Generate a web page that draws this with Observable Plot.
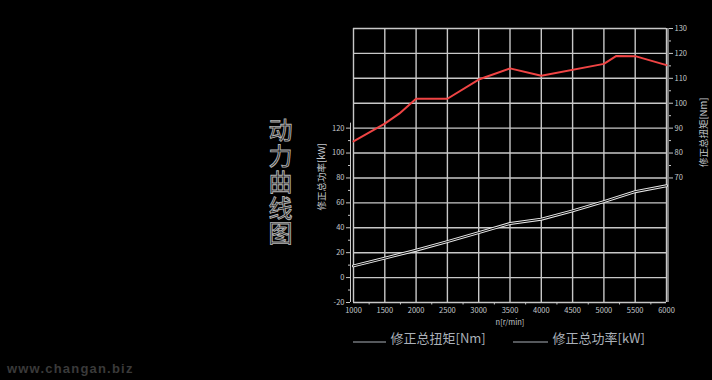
<!DOCTYPE html>
<html>
<head>
<meta charset="utf-8">
<script src="https://cdn.jsdelivr.net/npm/d3@7"></script>
<script src="https://cdn.jsdelivr.net/npm/@observablehq/plot@0.6"></script>
<style>
html,body{margin:0;padding:0;background:#000;}
#chart svg{display:block;background:#000;}
</style>
</head>
<body>
<div id="chart"></div>
<script>
// Torque curve (Nm) vs engine speed (rpm)
const torqueRpm = [1000, 1500, 1730, 2000, 2500, 3000, 3500, 4000, 5000, 5200, 5500, 6000];
const torqueNm  = [84.7, 91.8, 95.8, 101.8, 101.8, 109.5, 114, 111, 115.8, 119, 118.9, 115.3];
// Power curve (kW) vs engine speed (rpm)
const powerRpm = [1000, 1500, 2000, 2500, 3000, 3500, 4000, 4500, 5000, 5500, 6000];
const powerKw  = [9.4, 15.6, 22, 28.9, 36.1, 43.4, 46.9, 53.6, 61, 69, 73.7];
// Tick labels
const xTicks = [1000, 1500, 2000, 2500, 3000, 3500, 4000, 4500, 5000, 5500, 6000];
const powerTicks = [-20, 0, 20, 40, 60, 80, 100, 120];
const torqueTicks = [70, 80, 90, 100, 110, 120, 130];
const title = "动力曲线图";
const torqueLabel = "修正总扭矩[Nm]";
const powerLabel = "修正总功率[kW]";
const xLabel = "n[r/min]";
const watermark = "www.changan.biz";

// torque shares the chart's vertical scale: 70 Nm ↔ 80 kW, 10 Nm per 20 kW
const t2p = t => 2 * t - 60;
const p2t = p => String((p + 60) / 2);

const torque = torqueRpm.map((r, i) => ({rpm: r, v: t2p(torqueNm[i])}));
const power = powerRpm.map((r, i) => ({rpm: r, v: powerKw[i]}));
const gridY = d3.range(-20, 201, 20);

const font = "'Noto Sans CJK SC', 'Noto Sans', sans-serif";
const textCol = "#c4c8cc";
const gridCol = "#c8c8c8";

const chart = Plot.plot({
  width: 712,
  height: 380,
  marginLeft: 353,
  marginRight: 46,
  marginTop: 28,
  marginBottom: 78,
  style: {background: "#000", color: textCol, fontFamily: font},
  x: {domain: [1000, 6000]},
  y: {domain: [-20, 200]},
  marks: [
    Plot.ruleX(xTicks, {stroke: gridCol, strokeWidth: 1.4}),
    Plot.ruleY(gridY, {stroke: gridCol, strokeWidth: 1.4}),
    // right edge (double line)
    Plot.ruleX([6000], {stroke: gridCol, strokeWidth: 1.2, dx: 1.5}),
    // left axis line
    Plot.ruleX([1000], {y1: -20, y2: 124, stroke: gridCol, strokeWidth: 1, dx: -3}),
    Plot.axisX({ticks: xTicks, tickFormat: d => String(d), tickSize: 0, tickPadding: 5, fontSize: 7.5, label: null, fill: textCol}),
    Plot.axisX({ticks: d3.range(1250, 6000, 500), tickSize: 2.5, tickFormat: () => "", label: null, stroke: gridCol}),
    Plot.axisY({anchor: "left", ticks: powerTicks, tickFormat: d => String(d), tickSize: 4, tickPadding: 2, dx: -3, fontSize: 7.5, label: null, fill: textCol, stroke: gridCol}),
    Plot.axisY({anchor: "left", ticks: d3.range(-10, 121, 20), tickSize: 2, dx: -3, tickFormat: () => "", label: null, stroke: gridCol}),
    Plot.axisY({anchor: "right", ticks: torqueTicks.map(t2p), tickFormat: p2t, tickSize: 4, tickPadding: 2, dx: 2, fontSize: 7.5, label: null, fill: textCol, stroke: gridCol}),
    Plot.axisY({anchor: "right", ticks: d3.range(75, 130, 10).map(t2p), tickSize: 2, dx: 2, tickFormat: () => "", label: null, stroke: gridCol}),
    // power curve: dark line with light halo
    Plot.line(power, {x: "rpm", y: "v", stroke: "#e8e8e8", strokeWidth: 3}),
    Plot.line(power, {x: "rpm", y: "v", stroke: "#000", strokeWidth: 1}),
    // torque curve
    Plot.line(torque, {x: "rpm", y: "v", stroke: "#f04444", strokeWidth: 2}),
    // axis titles
    Plot.text([powerLabel], {frameAnchor: "left", dx: -32, dy: 45, rotate: -90, text: d => d, fontSize: 9.5, fill: textCol}),
    Plot.text([torqueLabel], {frameAnchor: "right", dx: 37, dy: -68, rotate: -90, text: d => d, fontSize: 9.5, fill: textCol}),
    Plot.text([xLabel], {frameAnchor: "bottom", dy: 22, text: d => d, fontSize: 7.5, fill: textCol}),
    // legend texts
    Plot.text([torqueLabel], {frameAnchor: "bottom-left", dx: 37, dy: 40, text: d => d, fontSize: 13, textAnchor: "start", fill: "#aab0b8"}),
    Plot.text([powerLabel], {frameAnchor: "bottom-left", dx: 199, dy: 40, text: d => d, fontSize: 13, textAnchor: "start", fill: "#aab0b8"})
  ]
});

const svg = d3.select(chart);
// big vertical title
svg.append("text").attr("x", 280.5).attr("y", 118).text(title)
  .attr("text-anchor", "start")
  .style("writing-mode", "vertical-rl")
  .attr("font-size", 24).attr("letter-spacing", 1.8)
  .attr("font-family", font)
  .attr("fill", "#111").attr("stroke", "#b4b4b4").attr("stroke-width", 0.9);
// legend swatches
[[353, 386], [513, 548]].forEach(([a, b]) => {
  svg.append("line").attr("x1", a).attr("x2", b).attr("y1", 342).attr("y2", 342)
    .attr("stroke", "#aab0b8").attr("stroke-width", 1.2);
});
// watermark
svg.append("text").attr("x", 7).attr("y", 373).text(watermark)
  .attr("text-anchor", "start")
  .attr("fill", "#3a3a3a").attr("font-weight", "bold").attr("font-size", 13)
  .attr("letter-spacing", 1.2).attr("font-family", "'Liberation Sans', Arial, sans-serif");

document.getElementById("chart").appendChild(chart);
</script>
</body>
</html>
